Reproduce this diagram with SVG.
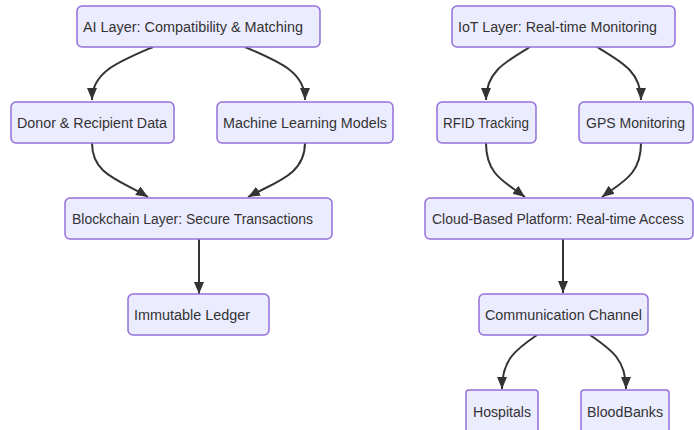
<svg xmlns="http://www.w3.org/2000/svg" width="694" height="430" viewBox="0 0 694 430">
<style>
.n rect{fill:#ECECFF;stroke:#9370DB;stroke-width:1.5}
.n text{font-family:"Liberation Sans",Arial,sans-serif;font-size:14px;fill:#333}
.e path{fill:none;stroke:#333;stroke-width:2}
</style>
<defs>
<marker id="ah" markerUnits="userSpaceOnUse" markerWidth="12" markerHeight="12" viewBox="0 0 12 10" refX="12" refY="5" orient="auto">
<path d="M0,0 L12,5 L0,10 z" fill="#333"/>
</marker>
</defs>
<rect width="694" height="430" fill="#fff"/>
<g class="e">
<path d="M153,47 C118,62 92,72 92,100" marker-end="url(#ah)"/>
<path d="M245,47 C280,62 305,72 305,100" marker-end="url(#ah)"/>
<path d="M92,143 C92,175 120,180 148,197" marker-end="url(#ah)"/>
<path d="M305,143 C305,175 275,182 248,197" marker-end="url(#ah)"/>
<path d="M199,239 L199,294" marker-end="url(#ah)"/>
<path d="M530,47 C505,62 486,72 486,100" marker-end="url(#ah)"/>
<path d="M597,47 C622,62 641,72 641,100" marker-end="url(#ah)"/>
<path d="M486,143 C486,175 505,182 525,197" marker-end="url(#ah)"/>
<path d="M641,143 C641,175 622,182 602,197" marker-end="url(#ah)"/>
<path d="M563,239 L563,293" marker-end="url(#ah)"/>
<path d="M537,335 C515,350 502,360 502,389" marker-end="url(#ah)"/>
<path d="M590,335 C612,350 626,360 626,389" marker-end="url(#ah)"/>
</g>
<g id="ai" class="n"><rect x="77" y="6" width="243" height="41" rx="5"/><text x="83" y="32" textLength="220" lengthAdjust="spacingAndGlyphs">AI Layer: Compatibility &amp; Matching</text></g>
<g id="donor" class="n"><rect x="11" y="102" width="163" height="41" rx="5"/><text x="17" y="128" textLength="150" lengthAdjust="spacingAndGlyphs">Donor &amp; Recipient Data</text></g>
<g id="ml" class="n"><rect x="217" y="102" width="176" height="41" rx="5"/><text x="223" y="128" textLength="164" lengthAdjust="spacingAndGlyphs">Machine Learning Models</text></g>
<g id="blockchain" class="n"><rect x="65" y="198" width="267" height="41" rx="5"/><text x="72" y="224" textLength="241" lengthAdjust="spacingAndGlyphs">Blockchain Layer: Secure Transactions</text></g>
<g id="ledger" class="n"><rect x="128" y="294" width="141" height="41" rx="5"/><text x="134" y="320" textLength="116" lengthAdjust="spacingAndGlyphs">Immutable Ledger</text></g>
<g id="iot" class="n"><rect x="452" y="6" width="223" height="41" rx="5"/><text x="458" y="32" textLength="199" lengthAdjust="spacingAndGlyphs">IoT Layer: Real-time Monitoring</text></g>
<g id="rfid" class="n"><rect x="437" y="102" width="99" height="41" rx="5"/><text x="443" y="128" textLength="86" lengthAdjust="spacingAndGlyphs">RFID Tracking</text></g>
<g id="gps" class="n"><rect x="579" y="102" width="114" height="41" rx="5"/><text x="586" y="128" textLength="99" lengthAdjust="spacingAndGlyphs">GPS Monitoring</text></g>
<g id="cloud" class="n"><rect x="425" y="198" width="268" height="41" rx="5"/><text x="432" y="224" textLength="252" lengthAdjust="spacingAndGlyphs">Cloud-Based Platform: Real-time Access</text></g>
<g id="comm" class="n"><rect x="479" y="294" width="169" height="41" rx="5"/><text x="485" y="320" textLength="157" lengthAdjust="spacingAndGlyphs">Communication Channel</text></g>
<g id="hospitals" class="n"><rect x="466" y="390" width="72" height="44" rx="3"/><text x="473" y="417" textLength="58" lengthAdjust="spacingAndGlyphs">Hospitals</text></g>
<g id="bloodbanks" class="n"><rect x="581" y="390" width="88" height="44" rx="3"/><text x="587" y="417" textLength="76" lengthAdjust="spacingAndGlyphs">BloodBanks</text></g>
</svg>
